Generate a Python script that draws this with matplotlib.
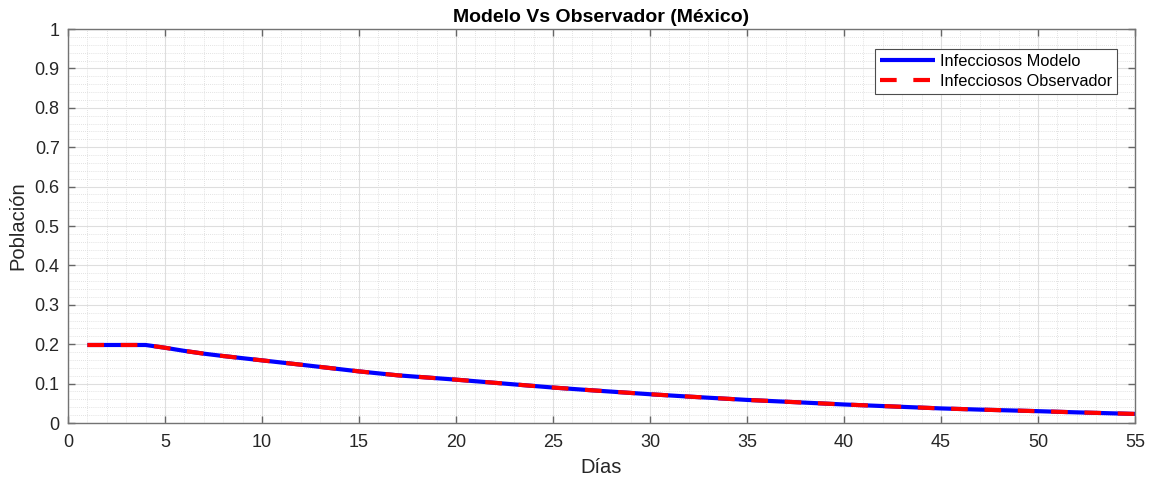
import matplotlib
matplotlib.use("Agg")
import matplotlib.pyplot as plt
from matplotlib.ticker import MultipleLocator, FuncFormatter

plt.rcParams['font.family'] = ['Liberation Sans', 'DejaVu Sans']

# Data
dias = [1, 2, 3, 4, 5, 6, 7, 8, 10, 12, 15, 17, 20, 22, 25, 27, 30, 32, 35, 37, 40, 42, 45, 47, 50, 52, 55]
infecciosos_modelo = [0.198, 0.198, 0.198, 0.198, 0.191, 0.183, 0.176, 0.170, 0.159, 0.148, 0.131, 0.121, 0.110,
                      0.102, 0.090, 0.083, 0.073, 0.067, 0.0586, 0.054, 0.047, 0.043, 0.037, 0.034, 0.030, 0.027, 0.023]
infecciosos_observador = list(infecciosos_modelo)

titulo = "Modelo Vs Observador (México)"
xlabel = "Días"
ylabel = "Población"
leyenda = ["Infecciosos Modelo", "Infecciosos Observador"]
xticks = list(range(0, 56, 5))
yticks = [i / 10 for i in range(0, 11)]

fig = plt.figure(figsize=(11.51, 4.79), dpi=100)
ax = fig.add_axes([68 / 1151, 1 - 423 / 479, (1135 - 68) / 1151, (423 - 29) / 479])

ax.plot(dias, infecciosos_modelo, color=(0, 0, 1), lw=3, label=leyenda[0], solid_capstyle='butt')
ax.plot(dias, infecciosos_observador, color=(1, 0, 0), lw=3, ls='--', dashes=(4, 4),
        label=leyenda[1], dash_capstyle='butt')

ax.set_xlim(0, 55)
ax.set_ylim(0, 1)
ax.set_xticks(xticks)
ax.set_yticks(yticks)
ax.yaxis.set_major_formatter(FuncFormatter(lambda v, p: f"{v:g}"))
ax.xaxis.set_minor_locator(MultipleLocator(1))
ax.yaxis.set_minor_locator(MultipleLocator(0.02))

ax.grid(which='major', color=(0.87, 0.87, 0.87), lw=0.8, ls='-')
ax.grid(which='minor', color=(0.85, 0.85, 0.85), lw=0.6, ls=(0, (1, 1.5)))
ax.set_axisbelow(True)

for s in ax.spines.values():
    s.set_color((0.45, 0.45, 0.45))
    s.set_linewidth(1.0)
ax.tick_params(which='major', direction='in', length=5, width=1, color=(0.4, 0.4, 0.4),
               top=True, right=True, labelsize=13, labelcolor=(0.15, 0.15, 0.15))
ax.tick_params(axis='x', which='major', pad=8)
ax.tick_params(axis='y', which='major', pad=6)
ax.tick_params(which='minor', length=0, top=True, right=True)

ax.set_title(titulo, fontsize=14, fontweight='bold', pad=5)
ax.set_xlabel(xlabel, fontsize=14.5, color=(0.15, 0.15, 0.15), labelpad=5)
ax.set_ylabel(ylabel, fontsize=14.5, color=(0.15, 0.15, 0.15), labelpad=5)

leg = ax.legend(loc='upper right', bbox_to_anchor=(1117 / 1151, 1 - 49 / 479), bbox_transform=fig.transFigure,
                fontsize=11.8, frameon=True, fancybox=False, framealpha=1, edgecolor=(0.3, 0.3, 0.3),
                handlelength=3.35, handletextpad=0.3, borderpad=0.3, labelspacing=0.3, borderaxespad=0)
leg.get_frame().set_linewidth(0.8)

fig.savefig("out.png", dpi=100, facecolor='white')
